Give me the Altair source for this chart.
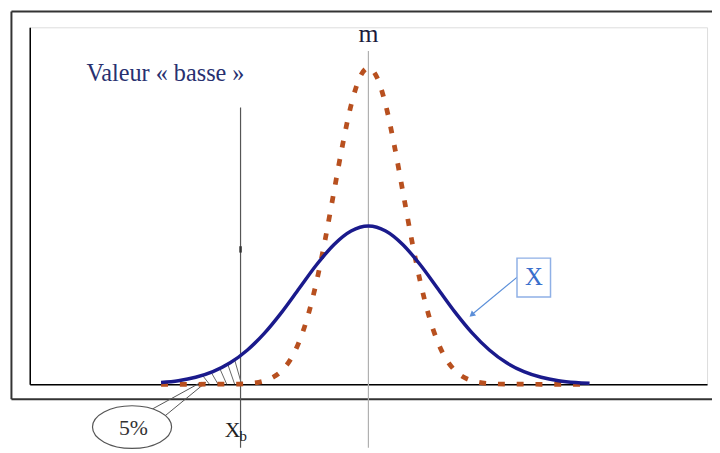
import altair as alt
import pandas as pd

# ---------------- values ----------------
# wide curve X (solid navy)
blue_x = [-6.0, -5.5, -5.0, -4.5, -4.0, -3.5, -3.0, -2.5, -2.0, -1.5, -1.0, -0.5, 0.0,
          0.5, 1.0, 1.5, 2.0, 2.5, 3.0, 3.5, 4.0, 4.5, 5.0, 5.5, 6.0, 6.4]
blue_y = [0.0022, 0.0045, 0.0088, 0.0159, 0.0270, 0.0432, 0.0648, 0.0913, 0.1210, 0.1506, 0.1760, 0.1933, 0.1995,
          0.1933, 0.1760, 0.1506, 0.1210, 0.0913, 0.0648, 0.0432, 0.0270, 0.0159, 0.0088, 0.0045, 0.0022, 0.0012]
# narrow curve (dotted rust)
red_x = [-6.0, -5.0, -4.0, -3.5, -3.0, -2.75, -2.5, -2.25, -2.0, -1.75, -1.5, -1.25, -1.0, -0.75, -0.5, -0.25, 0.0,
         0.25, 0.5, 0.75, 1.0, 1.25, 1.5, 1.75, 2.0, 2.25, 2.5, 2.75, 3.0, 3.5, 4.0, 5.0, 6.0, 6.4]
red_y = [0.0, 0.0, 0.0001, 0.0009, 0.0044, 0.0091, 0.0175, 0.0317, 0.0540, 0.0863, 0.1295, 0.1826, 0.2420,
         0.3011, 0.3521, 0.3867, 0.3989,
         0.3867, 0.3521, 0.3011, 0.2420, 0.1826, 0.1295, 0.0863, 0.0540, 0.0317, 0.0175, 0.0091, 0.0044,
         0.0009, 0.0001, 0.0, 0.0, 0.0]

m_value = 0.0          # mean
xb_value = -3.7        # "valeur basse" X_b

# hatching of the 5 % tail
hatch_x = [-4.8, -4.55, -4.3, -4.07, -3.87]
hatch_top = [0.0112, 0.0150, 0.0198, 0.0252, 0.0307]
hatch_slant = 0.2

x_domain = [-9.8, 9.8]
y_domain = [0.0, 0.45]

# decoration positions (data units)
frame_x = [-10.33, 10.3]
frame_y = [-0.019, 0.47]
guide_bottom = -0.08
m_line_top = 0.42
xb_line_top = 0.349
xb_tick = [0.166, 0.174]

label_m = ["m", 0.0, 0.431]
label_basse = ["Valeur « basse »", -8.16, 0.3825]
box_x = [4.30, 5.27]
box_y = [0.110, 0.159]
label_X = ["X", 4.79, 0.1345]
arrow_from = [4.33, 0.136]
arrow_to = [2.97, 0.087]
arrow_head = [2.99, 0.0875]
ellipse_c = [-6.84, -0.054]
label_pct = ["5%", -6.80, -0.055]
callout = [[-6.41, -0.035, -4.84, 0.0025], [-5.96, -0.0425, -4.70, 0.0025]]
label_Xb = ["X", -3.93, -0.066]
label_b = ["b", -3.62, -0.072]

# ---------------- chart ----------------
xs = alt.Scale(domain=x_domain, nice=False, zero=False)
ys = alt.Scale(domain=y_domain, nice=False, zero=False)
SERIF = "Liberation Serif, Times New Roman, serif"

ax = dict(title=None, labels=False, ticks=False, grid=False, domain=True,
          domainColor="#000000", domainWidth=1.5)


def X(field="x"):
    return alt.X(f"{field}:Q", scale=xs, axis=alt.Axis(**ax))


def Y(field="y"):
    return alt.Y(f"{field}:Q", scale=ys, axis=alt.Axis(**ax))


def rules(rows, color, width, dash=None):
    df = pd.DataFrame(rows, columns=["x", "y", "x2", "y2"])
    kw = dict(color=color, strokeWidth=width)
    if dash:
        kw["strokeDash"] = dash
    return alt.Chart(df).mark_rule(**kw).encode(
        x=X(), y=Y(), x2=alt.X2("x2:Q"), y2=alt.Y2("y2:Q"))


def text(lbl, size, color, align="center", baseline="alphabetic"):
    df = pd.DataFrame({"t": [lbl[0]], "x": [lbl[1]], "y": [lbl[2]]})
    return alt.Chart(df).mark_text(font=SERIF, fontSize=size, color=color,
                                   align=align, baseline=baseline).encode(
        x=X(), y=Y(), text="t:N")


blue_df = pd.DataFrame({"x": blue_x, "y": blue_y})
red_df = pd.DataFrame({"x": red_x, "y": red_y})

frame = rules([
    [frame_x[0], frame_y[0], frame_x[0], frame_y[1]],
    [frame_x[0], frame_y[1], frame_x[1], frame_y[1]],
    [frame_x[0], frame_y[0], frame_x[1], frame_y[0]],
], "#333333", 2)

m_line = rules([[m_value, guide_bottom, m_value, m_line_top]], "#b0b0b0", 1.2)
xb_line = rules([[xb_value, guide_bottom, xb_value, xb_line_top]], "#555555", 1.2)
xb_mark = rules([[xb_value, xb_tick[0], xb_value, xb_tick[1]]], "#333333", 2.5)

hatch = rules([[hx, ht, hx + hatch_slant, 0.0] for hx, ht in zip(hatch_x, hatch_top)], "#666666", 1)
call = rules(callout, "#555555", 1)

red = alt.Chart(red_df).mark_line(color="#b8501f", strokeWidth=4.8, strokeDash=[7, 12],
                                  strokeCap="butt", interpolate="monotone").encode(x=X(), y=Y())
blue = alt.Chart(blue_df).mark_line(color="#1a1a8c", strokeWidth=3.5,
                                    interpolate="monotone").encode(x=X(), y=Y())

box_df = pd.DataFrame({"x": [box_x[0]], "x2": [box_x[1]], "y": [box_y[0]], "y2": [box_y[1]]})
box = alt.Chart(box_df).mark_rect(fill="white", stroke="#8fb0e6", strokeWidth=1.5).encode(
    x=X(), x2=alt.X2("x2:Q"), y=Y(), y2=alt.Y2("y2:Q"))

arrow = rules([[arrow_from[0], arrow_from[1], arrow_to[0], arrow_to[1]]], "#5b8fd9", 1.2)
head_df = pd.DataFrame({"x": [arrow_head[0]], "y": [arrow_head[1]]})
head = alt.Chart(head_df).mark_point(shape="triangle-up", filled=True, size=45, angle=230,
                                     color="#5b8fd9", opacity=1).encode(x=X(), y=Y())

ell_path = ("M -1 0 C -1 -0.298 -0.552 -0.54 0 -0.54 C 0.552 -0.54 1 -0.298 1 0 "
            "C 1 0.298 0.552 0.54 0 0.54 C -0.552 0.54 -1 0.298 -1 0 Z")
ell_df = pd.DataFrame({"x": [ellipse_c[0]], "y": [ellipse_c[1]]})
ellipse = alt.Chart(ell_df).mark_point(shape=ell_path, size=6400, filled=True, fill="white",
                                       stroke="#555555", strokeWidth=1.2, opacity=1).encode(x=X(), y=Y())

chart = alt.layer(
    frame, m_line, xb_line, xb_mark, hatch, call, red, blue,
    arrow, head, box, ellipse,
    text(label_m, 26, "#1b1b3b"),
    text(label_basse, 24.5, "#283070", align="left"),
    text(label_X, 25, "#3a6fcc", baseline="middle"),
    text(label_pct, 22, "#333333", baseline="middle"),
    text(label_Xb, 22, "#222222"),
    text(label_b, 15, "#222222"),
).properties(
    width=685, height=361,
    padding={"left": 22, "top": 17, "right": 5, "bottom": 67},
    autosize=alt.AutoSizeParams(type="none"),
).configure_view(strokeWidth=0, stroke="transparent").configure(background="white")

chart.save("out.html", embed_options={"renderer": "svg", "actions": False})
